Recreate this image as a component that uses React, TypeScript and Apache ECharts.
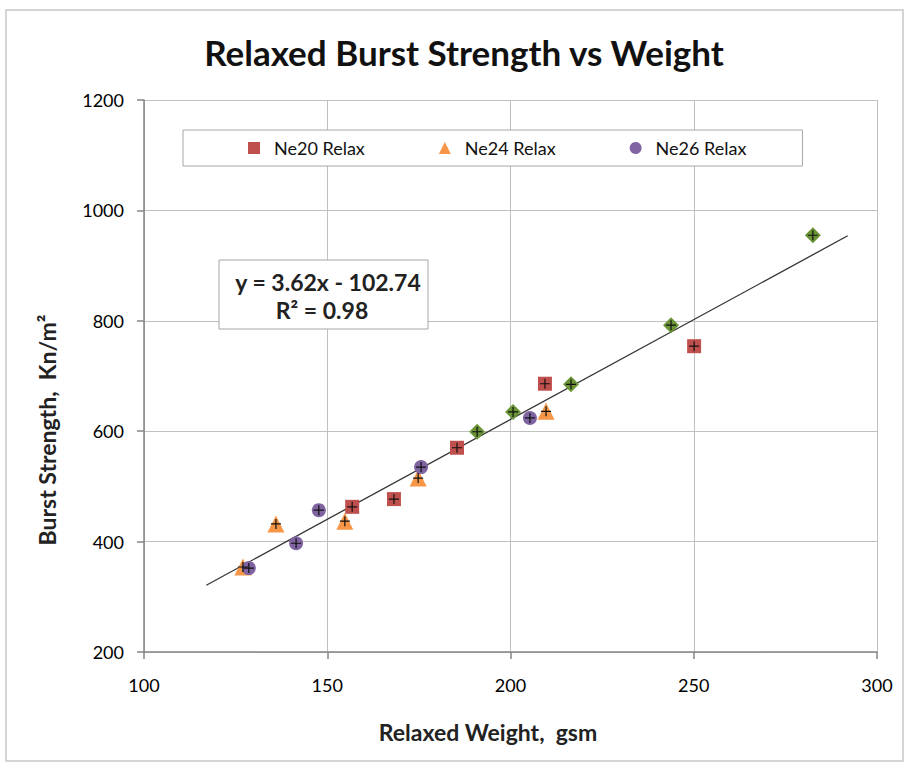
import React, { useEffect, useRef } from "react";
import * as echarts from "echarts";

const seriesNames = ["Ne20 Relax", "Ne24 Relax", "Ne26 Relax", "Ne All Relax"];
const ne20: number[][] = [[209.4, 686], [250.1, 754], [156.8, 463], [168.2, 477], [185.4, 570]];
const ne24: number[][] = [[127, 354], [136, 432], [154.8, 437], [174.8, 515], [209.7, 636]];
const ne26: number[][] = [[128.6, 352], [141.5, 397], [147.7, 457], [175.6, 535], [205.3, 624]];
const neOther: number[][] = [[282.5, 955], [243.8, 792], [216.5, 685], [200.7, 635], [190.9, 599]];
const trendLine: number[][] = [[117, 321], [292, 954]];
const xTicks = { min: 100, max: 300, interval: 50 };
const yTicks = { min: 200, max: 1200, interval: 200 };
const titleText = "Relaxed Burst Strength vs Weight";
const xName = "Relaxed Weight,  gsm";
const yName = "Burst Strength,  Kn/m²";
const eqLines = ["y = 3.62x - 102.74", "R² = 0.98"];

const FONT = "Lato, 'Open Sans', 'DejaVu Sans', sans-serif";
const CROSS = "path://M4.4,0H5.6V4.4H10V5.6H5.6V10H4.4V5.6H0V4.4H4.4Z";

export default function App() {
  const ref = useRef<HTMLDivElement>(null);
  useEffect(() => {
    if (!ref.current) return;
    const chart = echarts.init(ref.current, undefined, { renderer: "svg" });
    const allPts = [...ne20, ...ne24, ...ne26, ...neOther];
    chart.setOption({
      animation: false,
      backgroundColor: "#ffffff",
      textStyle: { fontFamily: FONT },
      grid: { left: 144, right: 29, top: 100, bottom: 113 },
      legend: {
        data: seriesNames.slice(0, 3),
        left: 183,
        top: 130,
        padding: [9, 56, 9, 65],
        itemGap: 74,
        itemWidth: 12,
        itemHeight: 12,
        borderColor: "#a6a6a6",
        borderWidth: 1,
        backgroundColor: "#ffffff",
        textStyle: { fontFamily: FONT, fontSize: 18, color: "#111", padding: [0, 0, 0, 9] },
      },
      xAxis: {
        type: "value",
        min: xTicks.min,
        max: xTicks.max,
        interval: xTicks.interval,
        axisLine: { show: true, lineStyle: { color: "#868686", width: 1.5 } },
        axisTick: { show: true, inside: false, length: 7, lineStyle: { color: "#868686", width: 1.5 } },
        axisLabel: { margin: 24, fontSize: 18, color: "#000", fontFamily: FONT, formatter: (v: number) => String(v) },
        splitLine: { show: true, lineStyle: { color: "#c0c0c0", width: 1 } },
      },
      yAxis: {
        type: "value",
        min: yTicks.min,
        max: yTicks.max,
        interval: yTicks.interval,
        axisLine: { show: true, lineStyle: { color: "#868686", width: 1.5 } },
        axisTick: { show: true, inside: false, length: 7, lineStyle: { color: "#868686", width: 1.5 } },
        axisLabel: { margin: 20, fontSize: 18, color: "#000", fontFamily: FONT, formatter: (v: number) => String(v) },
        splitLine: { show: true, lineStyle: { color: "#c0c0c0", width: 1 } },
      },
      series: [
        {
          name: "trend",
          type: "line",
          data: trendLine,
          showSymbol: false,
          symbol: "none",
          lineStyle: { color: "#333", width: 1.3 },
          z: 1,
          silent: true,
        },
        {
          name: seriesNames[0],
          type: "scatter",
          data: ne20,
          symbol: "rect",
          symbolSize: 14,
          itemStyle: { color: "#C0504D", opacity: 1 },
          z: 2,
        },
        {
          name: seriesNames[1],
          type: "scatter",
          data: ne24,
          symbol: "triangle",
          symbolSize: 17,
          itemStyle: { color: "#F79646", opacity: 1 },
          z: 2,
        },
        {
          name: seriesNames[2],
          type: "scatter",
          data: ne26,
          symbol: "circle",
          symbolSize: 14,
          itemStyle: { color: "#8064A2", opacity: 1 },
          z: 2,
        },
        {
          name: seriesNames[3],
          type: "scatter",
          data: neOther,
          symbol: "diamond",
          symbolSize: 16,
          itemStyle: { color: "#6A9436", opacity: 1 },
          z: 2,
        },
        {
          name: "all",
          type: "scatter",
          data: allPts,
          symbol: CROSS,
          symbolSize: 10,
          itemStyle: { color: "#111", opacity: 1 },
          z: 3,
          silent: true,
        },
      ],
      graphic: [
        {
          type: "rect",
          shape: { x: 6, y: 10, width: 897, height: 751 },
          style: { fill: "none", stroke: "#c8c8c8", lineWidth: 1.5 },
          z: 0,
        },
        {
          type: "text",
          x: 464,
          y: 52,
          style: {
            text: titleText,
            font: `bold 35px ${FONT}`,
            fill: "#111",
            align: "center",
            verticalAlign: "middle",
          },
        },
        {
          type: "text",
          x: 488,
          y: 732,
          style: {
            text: xName,
            font: `bold 23px ${FONT}`,
            fill: "#222",
            align: "center",
            verticalAlign: "middle",
          },
        },
        {
          type: "text",
          x: 47,
          y: 430,
          rotation: Math.PI / 2,
          style: {
            text: yName,
            font: `bold 23px ${FONT}`,
            fill: "#222",
            align: "center",
            verticalAlign: "middle",
          },
        },
        {
          type: "rect",
          shape: { x: 219, y: 260, width: 209, height: 69 },
          style: { fill: "#ffffff", stroke: "#a6a6a6", lineWidth: 1 },
          z: 50,
        },
        {
          type: "text",
          x: 328,
          y: 282,
          z: 51,
          style: {
            text: eqLines[0],
            font: `bold 23px ${FONT}`,
            fill: "#222",
            align: "center",
            verticalAlign: "middle",
          },
        },
        {
          type: "text",
          x: 322,
          y: 310,
          z: 51,
          style: {
            text: eqLines[1],
            font: `bold 23px ${FONT}`,
            fill: "#222",
            align: "center",
            verticalAlign: "middle",
          },
        },
      ],
    });
    return () => chart.dispose();
  }, []);
  return (
    <div
      ref={ref}
      style={{ position: "fixed", left: 0, top: 0, width: 906, height: 765 }}
    />
  );
}
